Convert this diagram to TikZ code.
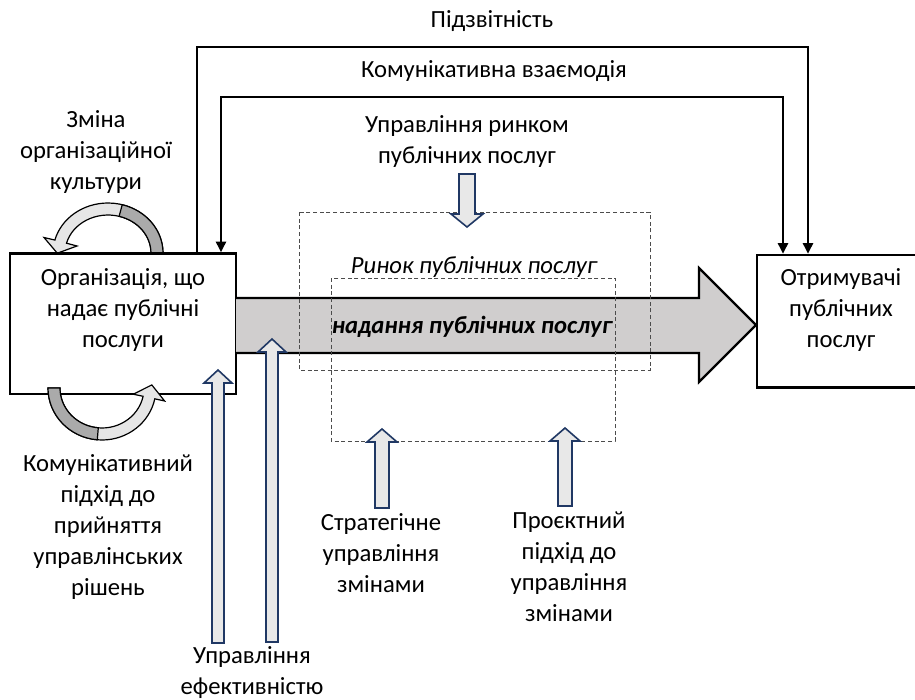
\documentclass[tikz,border=0pt]{standalone}
\usepackage{fontspec}
\setmainfont{Carlito}
\usetikzlibrary{arrows.meta}

\definecolor{flowgray}{RGB}{208,206,206}
\definecolor{blockfill}{RGB}{232,232,232}
\definecolor{blockline}{RGB}{32,56,100}
\definecolor{loopdark}{RGB}{170,170,170}
\definecolor{looplight}{RGB}{230,230,230}

% block arrow: x, tip y, tail y, half shaft width, direction (1 up, -1 down)
\newcommand{\blkarrow}[5]{%
  \draw[blockarrow] ({#1-#4},#3) -- ({#1-#4},{#2+(#5)*13}) -- ({#1-#4-8},{#2+(#5)*13}) -- (#1,#2)
    -- ({#1+#4+8},{#2+(#5)*13}) -- ({#1+#4},{#2+(#5)*13}) -- ({#1+#4},#3) -- cycle;}

\begin{document}
\begin{tikzpicture}[x=0.75pt,y=0.75pt,yscale=-1,xscale=1,
  box/.style={draw,line width=1.9pt,inner sep=0pt},
  conn/.style={line width=1.9pt,>={Triangle[length=8pt,width=7.5pt]}},
  dashbox/.style={draw=black!70,line width=0.75pt,dash pattern=on 3pt off 2pt},
  blockarrow/.style={draw=blockline,fill=blockfill,line width=1.2pt,line join=miter},
  loopband/.style={draw=black,line width=0.9pt,line join=miter},
  lbl/.style={font=\fontsize{18.5}{23.25}\selectfont,align=center,inner sep=0pt}]
\useasboundingbox (0,0) rectangle (915,700);

%Loops at the organisation box
\draw[loopband,fill=looplight] (163,253) arc[start angle=0,end angle=-165,x radius=55,y radius=50]
  -- (44,237.5) -- (57.3,253.2) -- (77,246) -- (66.5,243.2)
  arc[start angle=-165,end angle=0,x radius=43,y radius=38] -- cycle;
\draw[loopband,fill=loopdark] (163,253) arc[start angle=0,end angle=-75,x radius=55,y radius=50]
  -- (119.1,216.3) arc[start angle=-75,end angle=0,x radius=43,y radius=38] -- cycle;

%Boxes
\node[box,minimum width=226*0.75pt,minimum height=140.5*0.75pt] (org) at (123,323.75) {};
\node[box,minimum width=168*0.75pt,minimum height=132.5*0.75pt] (recv) at (841,321.25) {};

\draw[loopband,fill=looplight] (48,388) arc[start angle=180,end angle=12,x radius=54,y radius=52]
  -- (164.6,401) -- (151.8,384.9) -- (133.3,394.2) -- (143.1,396.3)
  arc[start angle=12,end angle=180,x radius=42,y radius=40] -- cycle;
\draw[loopband,fill=loopdark] (48,388) arc[start angle=180,end angle=95,x radius=54,y radius=52]
  -- (98.3,427.8) arc[start angle=95,end angle=180,x radius=42,y radius=40] -- cycle;

%Big flow arrow
\draw[line width=1.7pt,fill=flowgray] (236,298) -- (699,298) -- (699,268) -- (756,325)
  -- (699,382) -- (699,353) -- (236,353);

%Market boxes
\draw[dashbox] (299,212) rectangle (650,370);
\draw[dashbox] (331,278) rectangle (615,441);

%Feedback lines
\coordinate (accL) at (197,47);
\coordinate (accR) at (808,47);
\coordinate (comL) at (221,97);
\coordinate (comR) at (783,97);
\draw[conn,->] (accL |- org.north) -- (accL) -- (accR) -- (accR |- recv.north);
\draw[conn,<->] (comL |- org.north) -- (comL) -- (comR) -- (comR |- recv.north);

%Block arrows
\blkarrow{467}{227}{174}{8}{-1}
\blkarrow{218}{370}{643}{6}{1}
\blkarrow{272}{339}{642}{6}{1}
\blkarrow{382}{429}{508}{7}{1}
\blkarrow{565}{428}{506}{7}{1}

% Text Node
\node[lbl] (orgtxt) at (123,310) {Організація, що\\надає публічні\\послуги};
% Text Node
\node[lbl] (recvtxt) at (841,310) {Отримувачі\\публічних\\послуг};
% Text Node
\node[lbl] (acclbl) at (492,21) {Підзвітність};
% Text Node
\node[lbl] (comlbl) at (494,71) {Комунікативна взаємодія};
% Text Node
\node[lbl] (mktlbl) at (467,141) {Управління ринком\\публічних послуг};
% Text Node
\node[lbl] (culture) at (96,152) {Зміна\\організаційної\\культури};
% Text Node
\node[lbl] (decide) at (108,526.5) {Комунікативний\\підхід до\\прийняття\\управлінських\\рішень};
% Text Node
\node[lbl] (effic) at (252,673) {Управління\\ефективністю};
% Text Node
\node[lbl] (strat) at (381,553.5) {Стратегічне\\управління\\змінами};
% Text Node
\node[lbl] (proj) at (569,567) {Проєктний\\підхід до\\управління\\змінами};
% Text Node
\node[lbl,font=\fontsize{18.5}{23.25}\selectfont\itshape] (market) at (474,267) {Ринок публічних послуг};
% Text Node
\node[lbl,font=\fontsize{18.5}{23.25}\selectfont\bfseries\itshape] (flow) at (472,327) {надання публічних послуг};

\end{tikzpicture}
\end{document}
